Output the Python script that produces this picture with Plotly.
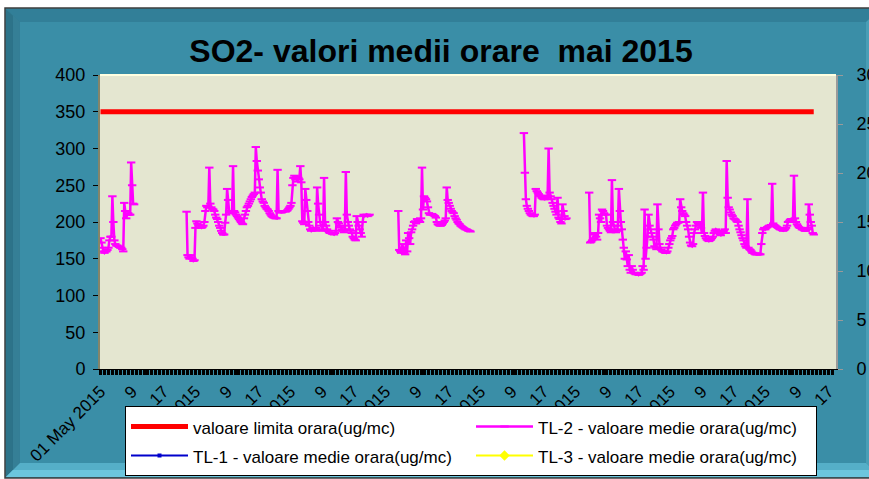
import plotly.graph_objects as go

# ---------------- data ----------------
title_text = "SO2- valori medii orare  mai 2015"
series_names = [
    "valoare limita orara(ug/mc)",
    "TL-1 - valoare medie orara(ug/mc)",
    "TL-2 - valoare medie orara(ug/mc)",
    "TL-3 - valoare medie orara(ug/mc)",
]
x_tick_labels = ["01 May 2015", "9", "17", "05 May 2015", "9", "17",
                 "09 May 2015", "9", "17", "13 May 2015", "9", "17",
                 "17 May 2015", "9", "17", "21 May 2015", "9", "17",
                 "25 May 2015", "9", "17", "29 May 2015", "9", "17"]
hours_in_month = 744        # hourly categories 1 May 01h .. 31 May 24h
label_interval = 32         # one axis label every 32 hours
data_hours = 722            # hours carrying values
limit_value = 350           # valoare limita orara

# TL-2 hourly values (ug/mc), consecutive hours starting at the given hour index
tl2_seg1_start = 0
tl2_seg1 = [178, 172, 165, 160, 158, 160, 160, 162, 165, 175, 180, 180, 235, 200, 175,
            170, 168, 168, 167, 166, 165, 165, 163, 160, 226, 215, 205, 210, 212, 210,
            210, 281, 250, 225, 224]
tl2_seg2_start = 87
tl2_seg2 = [214,
            155, 152, 150, 155, 152, 150, 147, 148,
            192, 201, 198, 196, 195, 193,
            192, 193, 195, 200,
            215, 222, 220, 221,
            274,
            225, 220, 218, 217, 215,
            210, 206, 204, 200, 195, 192, 188, 185, 183, 183,
            199, 210, 245, 230, 215,
            213, 213, 212,
            276,
            215, 213, 210, 208, 206,
            204, 202, 200, 198, 197,
            205, 210, 215, 220, 222, 225, 228, 231, 234, 236, 238,
            240,
            302,
            283, 270, 258, 247, 240, 231, 228,
            226, 222, 220, 218, 217, 215, 212,
            210, 208, 207, 206, 206, 205, 205,
            271,
            215, 214, 213, 213, 214, 215, 215, 214, 215, 216, 218, 220,
            222, 226, 250, 260, 263, 258, 262, 255, 260, 258, 276, 254,
            201, 199, 197, 245, 230, 215, 200, 195, 190, 188, 190, 192,
            190, 188, 192, 247, 225, 210, 200, 195,
            190, 188, 260, 200, 195, 190, 188, 186, 185,
            185, 184, 184, 183, 185, 188, 205, 200,
            198, 195, 193, 190, 188, 186, 190, 268, 210, 200,
            195, 190, 188, 185, 180, 178, 176, 175, 208, 200,
            195, 190, 185, 180, 200, 210, 208, 209, 210, 208, 209, 210]
tl2_seg3_start = 301
tl2_seg3 = [215, 162, 160, 158, 170, 165, 158, 156, 175, 160, 185, 178, 170, 186, 190,
            195, 200, 201, 198, 204,
            203, 202, 200, 205, 274,
            217, 235, 233, 231, 228, 220,
            212, 210, 210, 211, 210, 209, 208, 206,
            200, 197, 196, 195, 195, 196, 198, 200, 202, 205,
            247, 230,
            226, 222, 218, 215, 213, 212, 208, 205, 203, 200, 198, 197,
            195, 194, 193, 192, 191, 190, 190, 189, 188, 188, 187]
tl2_seg4_start = 428
tl2_seg4 = [321, 267, 231, 222, 218, 215, 212, 210,
            209, 208, 208, 210, 245, 242, 240, 238, 236,
            235, 233, 232, 231, 231, 232, 234, 236,
            300,
            240, 235, 231, 226, 222, 218, 214, 210,
            233, 206, 204, 200, 198,
            224, 215, 208, 204, 205]
tl2_seg5_start = 494
tl2_seg5 = [240, 172, 173, 175, 178, 183, 185, 180, 176, 185,
            210, 205, 200, 217, 215, 212, 210, 210,
            195, 192, 190, 188, 186,
            257,
            200, 195, 190, 186, 188, 195,
            245,
            215, 200, 190, 176, 165,
            150, 160, 149, 140, 155, 135, 131, 140,
            135, 131, 130, 129, 129, 130, 128, 129, 130, 131, 140, 135,
            217,
            150, 165, 180, 210, 195, 190, 185, 180,
            176, 167, 165, 163, 224, 190, 170, 165, 162, 160, 160, 159, 158, 158,
            160, 165, 170, 175, 178, 181,
            190, 192, 195, 197, 199, 199, 200,
            231,
            220, 215, 212, 210, 208, 200,
            195, 190, 180, 172, 168, 167, 170, 185, 190,
            195, 200, 198, 196, 195, 192, 185,
            240,
            185, 181, 178, 176, 175, 174, 175, 176, 178, 180,
            185, 188, 190, 188, 186, 185, 183, 182, 185, 187, 188, 190, 185,
            283,
            233, 220, 217, 213, 210, 208, 205, 204, 203, 201, 200,
            195, 190, 186, 182, 178, 175, 170, 167, 165,
            231,
            165, 163, 162, 160, 158, 158, 157, 156, 156, 156, 157, 156, 156, 170,
            185, 190, 192, 190, 192, 193, 194, 195, 195, 196,
            252,
            198, 196, 195, 194, 193, 192, 191, 190, 190, 189, 188, 189, 190, 192, 195,
            200, 201, 203, 204, 204, 203,
            263,
            205, 200, 197, 195, 193, 192, 192, 190, 190, 189, 188, 188, 190, 192,
            224, 210, 200, 195, 185, 183]

# ---------------- build series ----------------
hours = list(range(data_hours))
limit_series = [limit_value] * data_hours
tl2 = [None] * data_hours
for start, vals in [(tl2_seg1_start, tl2_seg1), (tl2_seg2_start, tl2_seg2),
                    (tl2_seg3_start, tl2_seg3), (tl2_seg4_start, tl2_seg4),
                    (tl2_seg5_start, tl2_seg5)]:
    for k, v in enumerate(vals):
        tl2[start + k] = v

tick_positions = list(range(0, hours_in_month, label_interval))

# ---------------- styling helpers ----------------
W, H = 869, 479
ML, MR, MT, MB = 100, 33, 75, 110
PW, PH = W - ML - MR, H - MT - MB


def px(x):
    return (x - ML) / PW


def py(y):
    return (H - MB - y) / PH


def poly(points):
    return "M " + " L ".join(f"{px(a):.5f},{py(b):.5f}" for a, b in points) + " Z"


def legend_name(s):
    return f'<span style="font-size:17px">{s}</span>'


FONT = "Liberation Sans, Arial, sans-serif"

fig = go.Figure()
fig.add_trace(go.Scatter(x=hours, y=limit_series, mode="lines", name=legend_name(series_names[0]),
                         line=dict(color="#FF0000", width=5)))
fig.add_trace(go.Scatter(x=hours, y=tl2, mode="lines+markers", name=legend_name(series_names[2]),
                         connectgaps=False,
                         line=dict(color="#FF00FF", width=2.5),
                         marker=dict(symbol="line-ew", size=6, color="#FF00FF",
                                     line=dict(color="#FF00FF", width=2))))
fig.add_trace(go.Scatter(x=[None], y=[None], mode="lines+markers", name=legend_name(series_names[1]),
                         yaxis="y2", line=dict(color="#0000CC", width=2),
                         marker=dict(symbol="square", size=4, color="#0000CC")))
fig.add_trace(go.Scatter(x=[None], y=[None], mode="lines+markers", name=legend_name(series_names[3]),
                         yaxis="y2", line=dict(color="#FFFF00", width=2),
                         marker=dict(symbol="diamond", size=8, color="#FFFF00")))

shapes = []
teal = "#3A8EA7"
# outer frame
shapes.append(dict(type="rect", xref="paper", yref="paper", layer="below",
                   x0=px(5), x1=px(880), y0=py(8), y1=py(478),
                   fillcolor=teal, line=dict(color="#3C3C3C", width=1.5)))
# top bevel
shapes.append(dict(type="path", xref="paper", yref="paper", layer="below",
                   path=poly([(6, 9), (880, 9), (880, 22), (20, 22)]),
                   fillcolor="#327F98", line=dict(width=0)))
# left bevel
shapes.append(dict(type="path", xref="paper", yref="paper", layer="below",
                   path=poly([(6, 9), (20, 22), (20, 463), (6, 477)]),
                   fillcolor="#2D7389", line=dict(width=0)))
shapes.append(dict(type="path", xref="paper", yref="paper", layer="below",
                   path=poly([(13, 15), (20, 22), (20, 463), (13, 470)]),
                   fillcolor="#357F96", line=dict(width=0)))
# right bevel
shapes.append(dict(type="path", xref="paper", yref="paper", layer="below",
                   path=poly([(866, 22), (880, 9), (880, 477), (866, 463)]),
                   fillcolor="#4A9EB6", line=dict(width=0)))
# bottom bevel (light)
shapes.append(dict(type="path", xref="paper", yref="paper", layer="below",
                   path=poly([(20, 463), (866, 463), (880, 477), (6, 477)]),
                   fillcolor="#55AFC8", line=dict(width=0)))
shapes.append(dict(type="path", xref="paper", yref="paper", layer="below",
                   path=poly([(13, 470), (873, 470), (880, 477), (6, 477)]),
                   fillcolor="#6CC6DD", line=dict(width=0)))
# plot area background
shapes.append(dict(type="rect", xref="paper", yref="paper", layer="below",
                   x0=0, x1=1, y0=0, y1=1, fillcolor="#E4E6D0", line=dict(width=0)))
# light top edge of plot area
shapes.append(dict(type="line", xref="paper", yref="paper", layer="below",
                   x0=0, x1=1, y0=1, y1=1, line=dict(color="#FFFFE0", width=2)))

fig.update_layout(
    width=W, height=H,
    margin=dict(l=ML, r=MR, t=MT, b=MB, pad=0, autoexpand=False),
    paper_bgcolor="white",
    plot_bgcolor="rgba(0,0,0,0)",
    font=dict(family=FONT, color="black"),
    shapes=shapes,
    title=dict(text="<b>" + title_text + "</b>", x=px(441), xref="paper", xanchor="center",
               y=1 - 51 / H, yref="container", yanchor="middle",
               font=dict(family=FONT, size=32, color="black")),
    xaxis=dict(range=[-0.5, hours_in_month - 0.5], tickmode="array",
               tickvals=tick_positions, ticktext=x_tick_labels, tickangle=-45,
               tickfont=dict(size=17), showgrid=False, zeroline=False, automargin=False,
               showline=True, linecolor="black", linewidth=1,
               ticks="outside", ticklen=5, tickwidth=3, tickcolor="black",
               minor=dict(tickmode="linear", tick0=0, dtick=4, ticks="outside",
                          ticklen=5, tickwidth=3, tickcolor="black", showgrid=False)),
    yaxis=dict(range=[0, 400], dtick=50, tickfont=dict(size=18), showgrid=False,
               zeroline=False, showline=True, linecolor="#85856A", linewidth=2,
               ticks="outside", ticklen=5, tickcolor="black", tickwidth=1,
               ticklabelstandoff=4, automargin=False),
    yaxis2=dict(range=[0, 30], dtick=5, overlaying="y", side="right",
                tickfont=dict(size=18), showgrid=False, zeroline=False,
                showline=True, linecolor="#9A9A9A", linewidth=2,
                ticks="outside", ticklen=5, tickcolor="#9A9A9A", tickwidth=1,
                ticklabelstandoff=10, automargin=False),
    legend=dict(orientation="h", x=px(125), y=py(406), xanchor="left", yanchor="top",
                bgcolor="white", bordercolor="black", borderwidth=1,
                font=dict(family=FONT, size=20, color="black"),
                entrywidth=273, entrywidthmode="pixels", itemwidth=57,
                traceorder="normal"),
    showlegend=True,
)

fig.write_html("out.html", config={"displayModeBar": False},
               post_script="document.body.style.margin='0';")
